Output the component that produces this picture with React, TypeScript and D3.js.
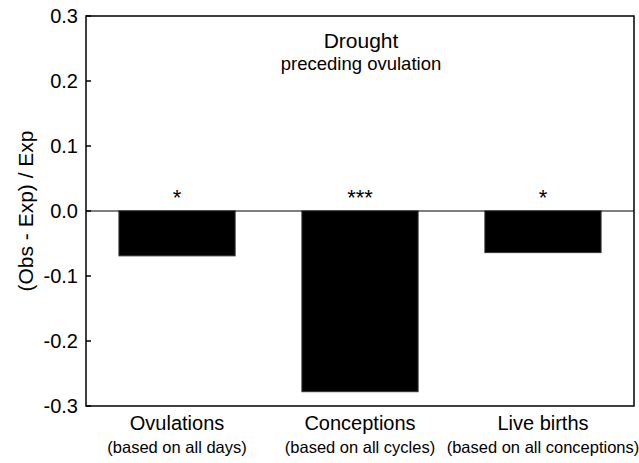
import React from "react";
import * as d3 from "d3";

const categories = ["Ovulations", "Conceptions", "Live births"];
const subLabels = ["(based on all days)", "(based on all cycles)", "(based on all conceptions)"];
const values = [-0.069, -0.278, -0.064];
const stars = ["*", "***", "*"];
const yTicks = [0.3, 0.2, 0.1, 0.0, -0.1, -0.2, -0.3];

const W = 639;
const H = 463;
const left = 86;
const right = 634;
const top = 16;
const bottom = 406;

export default function App() {
  const x = d3.scaleBand<string>().domain(categories).range([left, right]).paddingInner(0.365).paddingOuter(0.18);
  const y = d3.scaleLinear().domain([-0.3, 0.3]).range([bottom, top]);
  const font = "Liberation Sans, Arial, sans-serif";
  const cx = (i: number) => x(categories[i])! + x.bandwidth() / 2;
  return (
    <svg width={W} height={H} style={{ position: "absolute", left: 0, top: 0, background: "#fff" }} fontFamily={font}>
      <rect x={0} y={0} width={W} height={H} fill="#fff" />
      {values.map((v, i) => (
        <rect key={i} x={x(categories[i])} y={y(0)} width={x.bandwidth()} height={y(v) - y(0)} fill="#000" stroke="#333" strokeWidth={1} />
      ))}
      <line x1={left} x2={right} y1={y(0)} y2={y(0)} stroke="#000" strokeWidth={1.2} />
      <rect x={left} y={top} width={right - left} height={bottom - top} fill="none" stroke="#000" strokeWidth={1.5} />
      {yTicks.map((t, i) => (
        <g key={i}>
          <line x1={left} x2={left + 5} y1={y(t)} y2={y(t)} stroke="#000" strokeWidth={1.5} />
          <text x={left - 8} y={y(t)} dy="0.35em" textAnchor="end" fontSize={20}>{d3.format(".1f")(t).replace("−", "-")}</text>
        </g>
      ))}
      <text transform={`translate(33,${(top + bottom) / 2}) rotate(-90)`} textAnchor="middle" fontSize={21}>(Obs - Exp) / Exp</text>
      {values.map((v, i) => (
        <text key={"s" + i} x={cx(i)} y={y(0) - 6} textAnchor="middle" fontSize={22}>{stars[i]}</text>
      ))}
      {categories.map((c, i) => (
        <text key={"c" + i} x={cx(i)} y={430} textAnchor="middle" fontSize={20}>{c}</text>
      ))}
      {subLabels.map((c, i) => (
        <text key={"l" + i} x={cx(i)} y={453} textAnchor="middle" fontSize={16.5}>{c}</text>
      ))}
      <text x={361} y={48} textAnchor="middle" fontSize={21}>Drought</text>
      <text x={361} y={70} textAnchor="middle" fontSize={18.5}>preceding ovulation</text>
    </svg>
  );
}
